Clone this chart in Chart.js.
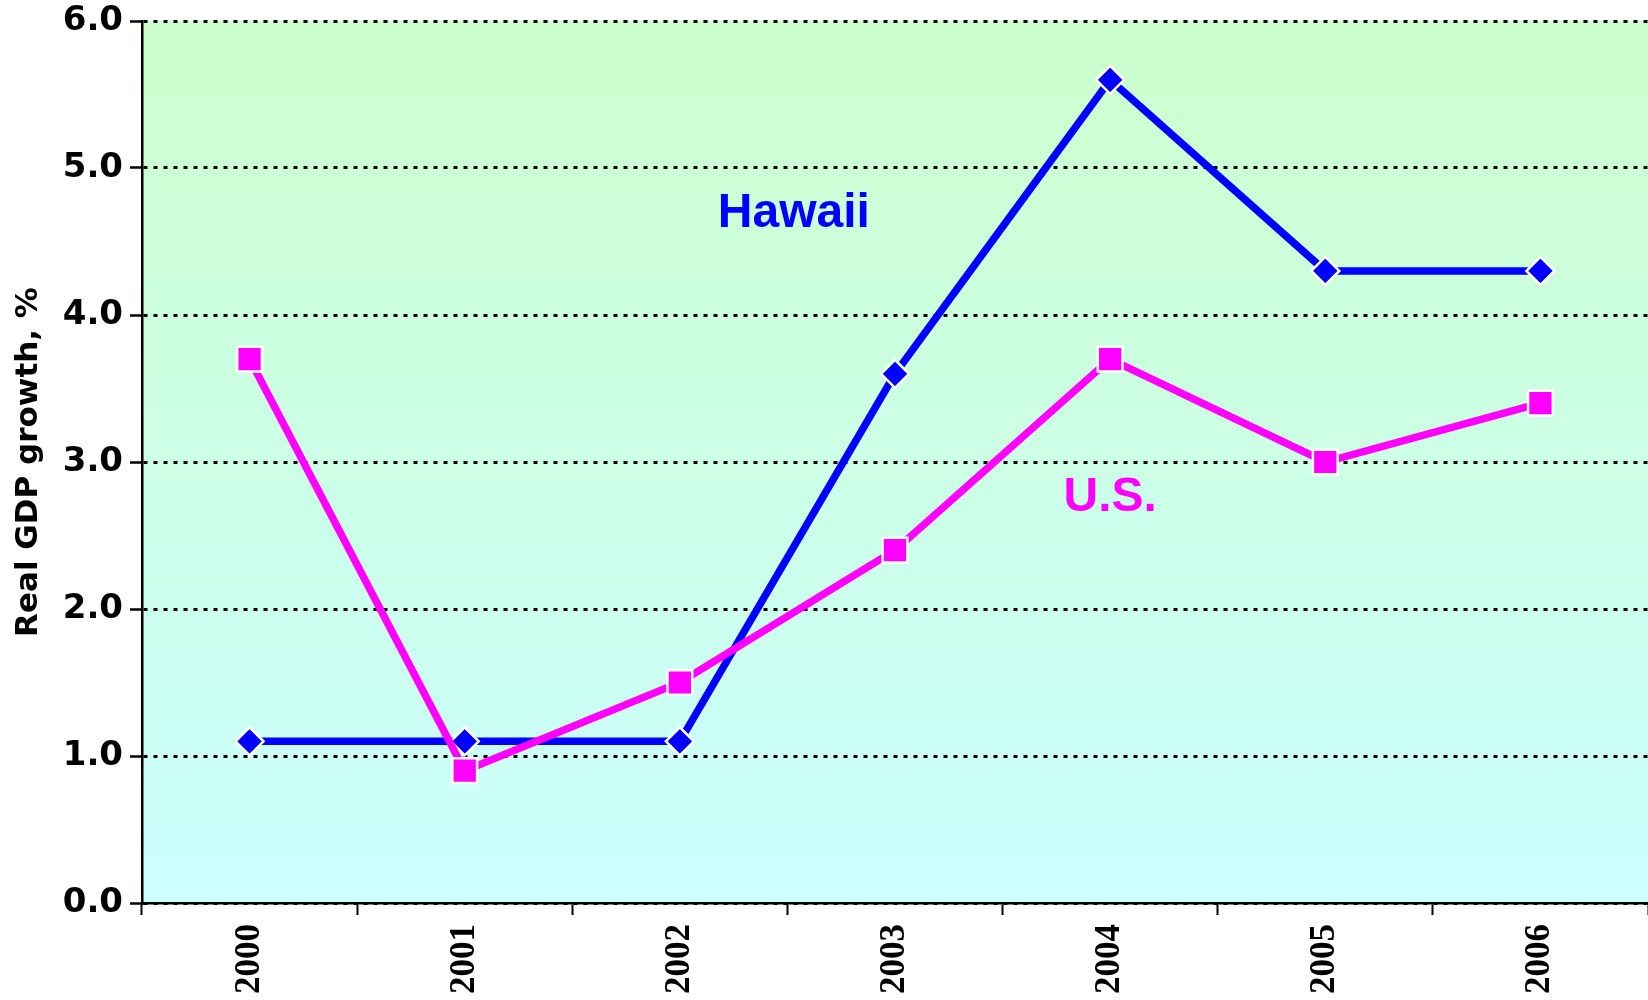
<!DOCTYPE html>
<html>
<head>
<meta charset="utf-8">
<title>Real GDP growth: Hawaii vs U.S.</title>
<script src="https://cdn.jsdelivr.net/npm/chart.js@4"></script>
<style>
    html, body { margin: 0; padding: 0; background: #ffffff; }
    #wrap { width: 1648px; height: 1000px; position: relative; }
</style>
</head>
<body>
<div id="wrap"><canvas id="gdpChart"></canvas></div>
<script>
// Chart data
const years = ['2000', '2001', '2002', '2003', '2004', '2005', '2006'];
const hawaiiGrowth = [1.1, 1.1, 1.1, 3.6, 5.6, 4.3, 4.3];
const usGrowth = [3.7, 0.9, 1.5, 2.4, 3.7, 3.0, 3.4];
const yTicks = [0, 1, 2, 3, 4, 5, 6];

// In-chart series labels, placed in data units (category index, value)
const seriesLabels = ['Hawaii', 'U.S.'];
const labelX = [2.53, 4.0];
const labelY = [4.69, 2.76];
const labelColors = ['#0000ff', '#ff00ff'];

// Light green -> light cyan plot background
const plotBackground = {
    id: 'plotBackground',
    beforeDraw(chart) {
        const { ctx, chartArea } = chart;
        if (!chartArea) return;
        ctx.save();
        const grad = ctx.createLinearGradient(0, chartArea.top, 0, chartArea.bottom);
        grad.addColorStop(0, '#ccffcc');
        grad.addColorStop(1, '#ccffff');
        ctx.fillStyle = grad;
        ctx.fillRect(chartArea.left, chartArea.top, chartArea.right - chartArea.left, chartArea.bottom - chartArea.top);
        ctx.restore();
    }
};

// Draws "Hawaii" / "U.S." through the chart's scales
const seriesNames = {
    id: 'seriesNames',
    afterDatasetsDraw(chart) {
        const { ctx, scales } = chart;
        ctx.save();
        ctx.font = 'bold 48px "Liberation Sans", Arial, sans-serif';
        ctx.textAlign = 'center';
        ctx.textBaseline = 'middle';
        seriesLabels.forEach((txt, i) => {
            ctx.fillStyle = labelColors[i];
            ctx.fillText(txt, scales.x.getPixelForValue(labelX[i]), scales.y.getPixelForValue(labelY[i]));
        });
        ctx.restore();
    }
};

const ctx = document.getElementById('gdpChart').getContext('2d');

new Chart(ctx, {
    type: 'line',
    data: {
        labels: years,
        datasets: [
            {
                label: 'U.S.',
                data: usGrowth,
                borderColor: '#ff00ff',
                backgroundColor: '#ff00ff',
                borderWidth: 7.5,
                tension: 0,
                pointStyle: 'rect',
                pointRadius: 17.5,
                pointHoverRadius: 17.5,
                pointBackgroundColor: '#ff00ff',
                pointBorderColor: '#ffffff',
                pointBorderWidth: 2.5
            },
            {
                label: 'Hawaii',
                data: hawaiiGrowth,
                borderColor: '#0000ff',
                backgroundColor: '#0000ff',
                borderWidth: 7.5,
                tension: 0,
                pointStyle: 'rectRot',
                pointRadius: 14,
                pointHoverRadius: 14,
                pointBackgroundColor: '#0000ff',
                pointBorderColor: '#ffffff',
                pointBorderWidth: 2.5
            }
        ]
    },
    options: {
        responsive: true,
        maintainAspectRatio: false,
        animation: false,
        layout: { autoPadding: false, padding: { top: 21, right: 0, bottom: 0, left: 0 } },
        plugins: {
            legend: { display: false },
            tooltip: { enabled: false }
        },
        scales: {
            x: {
                offset: true,
                grid: {
                    display: true,
                    offset: true,
                    drawOnChartArea: false,
                    drawTicks: true,
                    tickLength: 12,
                    tickColor: '#000000',
                    tickWidth: 2
                },
                border: { display: true, color: '#000000', width: 2.5 },
                ticks: {
                    autoSkip: false,
                    minRotation: 90,
                    maxRotation: 90,
                    padding: 9,
                    color: '#000000',
                    font: { family: '"Liberation Serif", "Times New Roman", serif', size: 35, weight: 'bold' }
                },
                afterFit(scale) {
                    scale.height = 97;
                    scale.paddingLeft = 0;
                    scale.paddingRight = 0;
                }
            },
            y: {
                min: 0,
                max: 6,
                afterBuildTicks(scale) { scale.ticks = yTicks.map(v => ({ value: v })); },
                grid: {
                    color: '#000000',
                    lineWidth: 3,
                    drawTicks: true,
                    tickLength: 12,
                    tickColor: '#000000',
                    tickWidth: 2.5,
                    tickBorderDash: []
                },
                border: { display: true, color: '#000000', width: 2.5, dash: [4, 6] },
                ticks: {
                    padding: 7,
                    color: '#000000',
                    font: { family: '"DejaVu Sans", Verdana, sans-serif', size: 34, weight: 'bold' },
                    callback: v => Number(v).toFixed(1)
                },
                title: {
                    display: true,
                    text: 'Real GDP growth, %',
                    color: '#000000',
                    padding: { top: 10, bottom: 0 },
                    font: { family: '"DejaVu Sans", Verdana, sans-serif', size: 31, weight: 'bold' }
                },
                afterFit(scale) {
                    scale.width = 142;
                    scale.paddingTop = 0;
                    scale.paddingBottom = 0;
                }
            }
        }
    },
    plugins: [plotBackground, seriesNames]
});
</script>
</body>
</html>
